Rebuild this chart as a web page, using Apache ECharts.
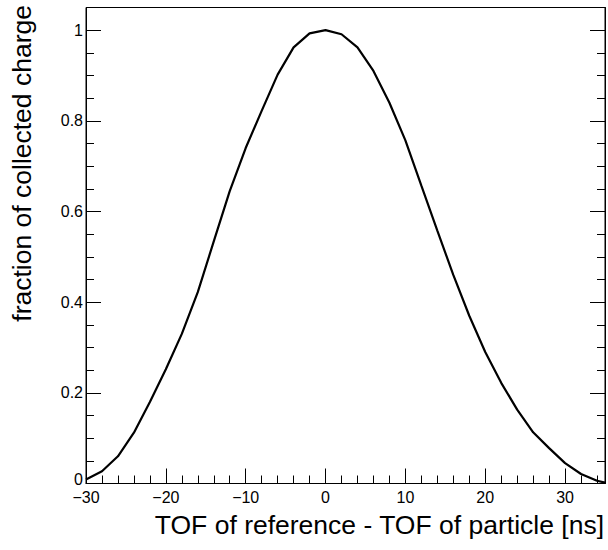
<!DOCTYPE html>
<html>
<head>
<meta charset="utf-8">
<script src="https://cdn.jsdelivr.net/npm/echarts@6/dist/echarts.min.js"></script>
<style>
html,body{margin:0;padding:0;background:#fff;}
#chart{width:608px;height:550px;}
</style>
</head>
<body>
<div id="chart"></div>
<script>
var xValues = [-30, -28, -26, -24, -22, -20, -18, -16, -14, -12, -10, -8, -6, -4, -2, 0, 2, 4, 6, 8, 10, 12, 14, 16, 18, 20, 22, 24, 26, 28, 30, 32, 34, 35];
var chargeFraction = [0.009, 0.027, 0.060, 0.112, 0.180, 0.252, 0.330, 0.422, 0.534, 0.645, 0.740, 0.822, 0.902, 0.962, 0.993, 1.000, 0.991, 0.962, 0.910, 0.840, 0.757, 0.657, 0.558, 0.460, 0.370, 0.290, 0.222, 0.163, 0.113, 0.078, 0.045, 0.021, 0.006, 0.002];
var xTitle = 'TOF of reference - TOF of particle [ns]';
var yTitle = 'fraction of collected charge';

var chart = echarts.init(document.getElementById('chart'), null, {renderer: 'svg'});
var FONT = 'Liberation Sans, Arial, Helvetica, sans-serif';
var seriesData = xValues.map(function (x, i) { return [x, chargeFraction[i]]; });

function minusFmt(v) { return String(v).replace('-', '\u2212'); }
function yFmt(v) { return v === 0 ? '{z|0}' : String(v); }

var tickStyle = {color: '#000', width: 1};
chart.setOption({
  animation: false,
  backgroundColor: '#fff',
  grid: {left: 86, right: 3, top: 7.5, bottom: 66.5, show: true, borderColor: '#000', borderWidth: 1, backgroundColor: 'transparent'},
  xAxis: {
    type: 'value', min: -30, max: 35, interval: 10,
    axisLine: {show: true, onZero: false, lineStyle: {color: '#000', width: 1}},
    axisTick: {show: true, inside: true, length: 15, lineStyle: tickStyle},
    minorTick: {show: true, splitNumber: 5, length: 8, lineStyle: tickStyle},
    splitLine: {show: false},
    axisLabel: {show: true, margin: 8, color: '#000', fontSize: 16, lineHeight: 12, fontFamily: FONT, showMaxLabel: false, formatter: minusFmt}
  },
  yAxis: [{
    type: 'value', min: 0, max: 1.05, interval: 0.2,
    axisLine: {show: true, onZero: false, lineStyle: {color: '#000', width: 1}},
    axisTick: {show: true, inside: true, length: 15, lineStyle: tickStyle},
    minorTick: {show: true, splitNumber: 4, length: 8, lineStyle: tickStyle},
    splitLine: {show: false},
    axisLabel: {
      show: true, margin: 3, color: '#000', fontSize: 16, lineHeight: 12, fontFamily: FONT, showMaxLabel: false,
      formatter: yFmt,
      rich: {z: {fontSize: 16, lineHeight: 12, fontFamily: FONT, color: '#000', padding: [0, 0, 8, 0]}}
    }
  }, {
    type: 'value', min: 0, max: 1.05, interval: 0.2, position: 'right',
    axisLine: {show: true, onZero: false, lineStyle: {color: '#000', width: 1}},
    axisTick: {show: true, inside: true, length: 15, lineStyle: tickStyle},
    minorTick: {show: true, splitNumber: 4, length: 8, lineStyle: tickStyle},
    splitLine: {show: false},
    axisLabel: {show: false}
  }],
  graphic: [{
    type: 'text', x: 604, y: 525,
    style: {text: xTitle, font: '26.5px ' + FONT, fill: '#000', align: 'right', verticalAlign: 'middle'}
  }, {
    type: 'text', x: 22, y: 5, rotation: Math.PI / 2,
    style: {text: yTitle, font: '26.5px ' + FONT, fill: '#000', align: 'right', verticalAlign: 'middle'}
  }],
  series: [{
    type: 'line', data: seriesData, xAxisIndex: 0, yAxisIndex: 0,
    showSymbol: false, smooth: false,
    lineStyle: {color: '#000', width: 2.2}
  }]
});
</script>
</body>
</html>
